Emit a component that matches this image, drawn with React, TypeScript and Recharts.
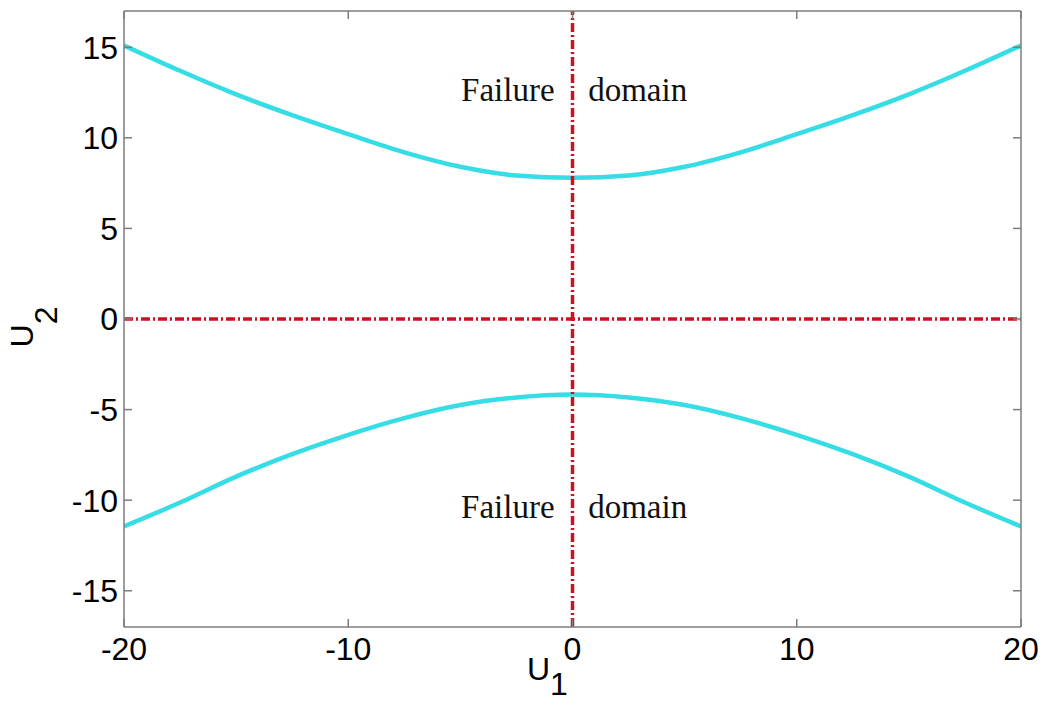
import React from 'react'
import { LineChart, Line, XAxis, YAxis, ReferenceLine, ReferenceDot } from 'recharts'

// abscissa U1 and the two branches of the limit-state curve
const u1Values = [-20, -17.5, -15, -12.5, -10, -7.5, -5, -2.5, 0, 2.5, 5, 7.5, 10, 12.5, 15, 17.5, 20]
const upperBranch = [15.1, 13.7, 12.4, 11.25, 10.2, 9.2, 8.4, 7.92, 7.8, 7.92, 8.4, 9.2, 10.2, 11.25, 12.4, 13.7, 15.1]
const lowerBranch = [-11.45, -10.13, -8.7, -7.46, -6.39, -5.47, -4.75, -4.33, -4.17, -4.33, -4.75, -5.47, -6.39, -7.46, -8.7, -10.13, -11.45]

const xTicks = [-20, -10, 0, 10, 20]
const yTicks = [-15, -10, -5, 0, 5, 10, 15]

const noteWords = ['Failure', 'domain', 'Failure', 'domain']
const noteU1 = [-0.8, 0.7, -0.8, 0.7]
const noteU2 = [12.05, 12.05, -10.97, -10.97]

const data = u1Values.map((u1, i) => ({ u1, upper: upperBranch[i], lower: lowerBranch[i] }))

const FRAME = '#7d7d7d'
const CYAN = '#36dde4'
const RED = '#c8141c'
const sansFont = '"Liberation Sans", Arial, Helvetica, sans-serif'
const serifFont = '"Liberation Serif", "Times New Roman", serif'

const tickStyle = { fill: '#000', fontSize: 32, fontFamily: sansFont }

function YTitle(props: any) {
  const vb = props.viewBox
  const cx = vb.x + 33
  const cy = vb.y + 316
  return (
    <text
      x={cx}
      y={cy}
      transform={`rotate(-90, ${cx}, ${cy})`}
      textAnchor="middle"
      fontFamily={sansFont}
      fontSize={32}
      fill="#000"
    >
      <tspan>U</tspan>
      <tspan dy={24}>2</tspan>
    </text>
  )
}

function XTitle(props: any) {
  const vb = props.viewBox
  return (
    <text x={vb.x + 403} y={vb.y + 53} fontFamily={sansFont} fontSize={32} fill="#000">
      <tspan>U</tspan>
      <tspan dy={15}>1</tspan>
    </text>
  )
}

export default function App() {
  return (
    <div style={{ position: 'absolute', left: 0, top: 0, background: '#fff' }}>
      <LineChart width={1045} height={705} data={data} margin={{ top: 0, right: 0, bottom: 0, left: 0 }}>
        <XAxis
          dataKey="u1"
          type="number"
          domain={[-20, 20]}
          ticks={xTicks}
          height={78}
          allowDataOverflow
          tick={tickStyle}
          tickSize={-8}
          tickMargin={18}
          axisLine={{ stroke: FRAME, strokeWidth: 1.5 }}
          tickLine={{ stroke: FRAME, strokeWidth: 1.5 }}
          label={<XTitle />}
        />
        <XAxis
          xAxisId="top"
          orientation="top"
          dataKey="u1"
          type="number"
          domain={[-20, 20]}
          ticks={xTicks}
          height={11}
          allowDataOverflow
          tickFormatter={() => ''}
          tickSize={-8}
          axisLine={{ stroke: FRAME, strokeWidth: 1.5 }}
          tickLine={{ stroke: FRAME, strokeWidth: 1.5 }}
        />
        <YAxis
          type="number"
          domain={[-17, 17]}
          ticks={yTicks}
          width={124}
          allowDataOverflow
          tick={tickStyle}
          tickSize={-8}
          tickMargin={14}
          axisLine={{ stroke: FRAME, strokeWidth: 1.5 }}
          tickLine={{ stroke: FRAME, strokeWidth: 1.5 }}
          label={<YTitle />}
        />
        <YAxis
          yAxisId="right"
          orientation="right"
          type="number"
          domain={[-17, 17]}
          ticks={yTicks}
          width={24}
          allowDataOverflow
          tickFormatter={() => ''}
          tickSize={-8}
          axisLine={{ stroke: FRAME, strokeWidth: 1.5 }}
          tickLine={{ stroke: FRAME, strokeWidth: 1.5 }}
        />
        <Line
          dataKey="upper"
          type="monotone"
          stroke={CYAN}
          strokeWidth={4.5}
          dot={false}
          activeDot={false}
          isAnimationActive={false}
        />
        <Line
          dataKey="lower"
          type="monotone"
          stroke={CYAN}
          strokeWidth={4.5}
          dot={false}
          activeDot={false}
          isAnimationActive={false}
        />
        <ReferenceLine y={0} stroke={RED} strokeWidth={3.5} strokeDasharray="9 3 2 3" />
        <ReferenceLine x={0} stroke={RED} strokeWidth={3.5} strokeDasharray="9 3 2 3" />
        {noteWords.map((word, i) => (
          <ReferenceDot
            key={i}
            x={noteU1[i]}
            y={noteU2[i]}
            r={0}
            shape={(p: any) => (
              <text
                x={p.cx}
                y={p.cy}
                textAnchor={i % 2 === 0 ? 'end' : 'start'}
                fontFamily={serifFont}
                fontSize={33}
                fill="#111"
              >
                {word}
              </text>
            )}
          />
        ))}
      </LineChart>
    </div>
  )
}
